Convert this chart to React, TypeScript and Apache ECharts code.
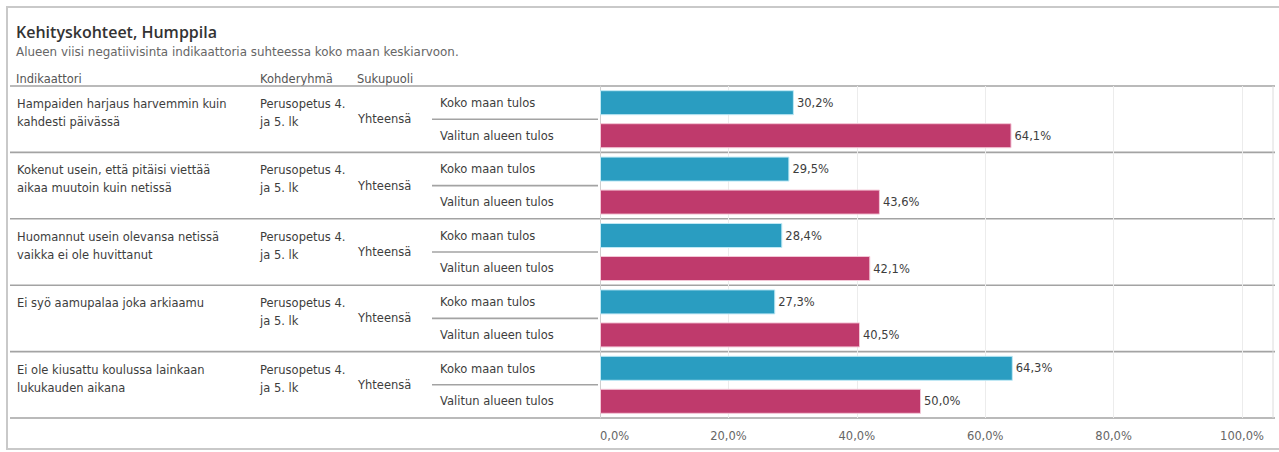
import React, { useEffect, useRef } from "react";
import * as echarts from "echarts";

// ---- Data ----
const titleText = "Kehityskohteet, Humppila";
const subtitleText = "Alueen viisi negatiivisinta indikaattoria suhteessa koko maan keskiarvoon.";
const headers = ["Indikaattori", "Kohderyhmä", "Sukupuoli"];
const indicators = [
  "Hampaiden harjaus harvemmin kuin\nkahdesti päivässä",
  "Kokenut usein, että pitäisi viettää\naikaa muutoin kuin netissä",
  "Huomannut usein olevansa netissä\nvaikka ei ole huvittanut",
  "Ei syö aamupalaa joka arkiaamu",
  "Ei ole kiusattu koulussa lainkaan\nlukukauden aikana",
];
const targetGroups = ["Perusopetus 4.\nja 5. lk", "Perusopetus 4.\nja 5. lk", "Perusopetus 4.\nja 5. lk", "Perusopetus 4.\nja 5. lk", "Perusopetus 4.\nja 5. lk"];
const genders = ["Yhteensä", "Yhteensä", "Yhteensä", "Yhteensä", "Yhteensä"];
const seriesNames = ["Koko maan tulos", "Valitun alueen tulos"];
const nationalValues = [30.2, 29.5, 28.4, 27.3, 64.3];
const regionValues = [64.1, 43.6, 42.1, 40.5, 50.0];
const xTicks = [0, 20, 40, 60, 80, 100];

// ---- Layout / style ----
const W = 1279;
const H = 452;
const GRID_LEFT = 600;
const GRID_TOP = 86;
const GRID_W = 642;
const GRID_H = 332;
const ROW_H = GRID_H / indicators.length;
const FONT = "'DejaVu Sans', 'Noto Sans', sans-serif";
const TITLE_FONT = "'Open Sans', 'Noto Sans', sans-serif";
const BODY = 11.5;
const BLUE = "#2a9dc1";
const PINK = "#bf3a6c";
const LINE = "#a3a3a3";
const TEXT = "#3d3d3d";

const fmt = (v: number) => v.toFixed(1).replace(".", ",") + "%";

function txt(x: number, y: number, text: string, size: number, fill: string, extra: any = {}) {
  return {
    type: "text",
    x,
    y,
    silent: true,
    style: { text, fontSize: size, fontFamily: FONT, fill, verticalAlign: "middle", ...extra },
  };
}

function buildGraphics() {
  const els: any[] = [];
  els.push({
    type: "rect",
    shape: { x: 7, y: 7, width: 1280, height: 442 },
    style: { fill: "none", stroke: "#c9c9c9", lineWidth: 2 },
    silent: true,
  });
  els.push(txt(16, 32, titleText, 16, "#333", { fontWeight: 600, fontFamily: TITLE_FONT }));
  els.push(txt(16, 52, subtitleText, 11.9, "#666"));
  const headerX = [16, 260, 357];
  headers.forEach((h, i) => els.push(txt(headerX[i], 79, h, 11.5, "#555")));
  // horizontal lines: header + row boundaries
  for (let i = 0; i <= indicators.length; i++) {
    const y = GRID_TOP + i * ROW_H;
    els.push({
      type: "line",
      shape: { x1: 10, y1: y, x2: 1275, y2: y },
      style: { stroke: LINE, lineWidth: 1.6 },
      silent: true,
    });
  }
  // right border of the table
  els.push({
    type: "line",
    shape: { x1: 1273, y1: GRID_TOP, x2: 1273, y2: GRID_TOP + GRID_H },
    style: { stroke: "#dcdcdc", lineWidth: 1 },
    silent: true,
  });
  indicators.forEach((ind, i) => {
    const top = GRID_TOP + i * ROW_H;
    ind.split("\n").forEach((line, j) => els.push(txt(17, top + 18 + j * 18, line, BODY, TEXT)));
    targetGroups[i].split("\n").forEach((line, j) => els.push(txt(260, top + 18 + j * 18, line, BODY, TEXT)));
    els.push(txt(358, top + ROW_H / 2, genders[i], BODY, TEXT));
    els.push(txt(440, top + 17, seriesNames[0], BODY, TEXT));
    els.push(txt(440, top + 49.5, seriesNames[1], BODY, TEXT));
    els.push({
      type: "line",
      shape: { x1: 432, y1: top + ROW_H / 2, x2: 598, y2: top + ROW_H / 2 },
      style: { stroke: LINE, lineWidth: 1.6 },
      silent: true,
    });
  });
  return els;
}

export default function App() {
  const ref = useRef<HTMLDivElement>(null);
  useEffect(() => {
    if (!ref.current) return;
    const chart = echarts.init(ref.current, undefined, { renderer: "svg" });
    const labelStyle = {
      show: true,
      position: "right" as const,
      distance: 3,
      fontSize: 11.5,
      fontFamily: FONT,
      color: TEXT,
      formatter: (p: any) => fmt(p.value),
    };
    chart.setOption({
      animation: false,
      backgroundColor: "#ffffff",
      grid: { left: GRID_LEFT, top: GRID_TOP, width: GRID_W, height: GRID_H, containLabel: false },
      xAxis: {
        type: "value",
        min: xTicks[0],
        max: xTicks[xTicks.length - 1],
        interval: 20,
        axisLine: { show: false },
        axisTick: { show: false },
        splitLine: { show: true, lineStyle: { color: "#ececec", width: 1 } },
        axisLabel: {
          fontSize: 11.5,
          fontFamily: FONT,
          color: "#666",
          margin: 12,
          alignMinLabel: "left",
          formatter: (v: number) => fmt(v),
        },
      },
      yAxis: {
        type: "category",
        data: indicators,
        inverse: true,
        axisLabel: { show: false },
        axisTick: { show: false },
        axisLine: { show: true, lineStyle: { color: "#cfcfcf", width: 1 } },
        splitLine: { show: false },
      },
      series: [
        {
          name: seriesNames[0],
          type: "bar",
          data: nationalValues,
          barWidth: 25,
          barGap: "32%",
          itemStyle: { color: BLUE, borderColor: "#bfe9f5", borderWidth: 1 },
          label: labelStyle,
        },
        {
          name: seriesNames[1],
          type: "bar",
          data: regionValues,
          barWidth: 25,
          barGap: "32%",
          itemStyle: { color: PINK, borderColor: "#f3c6d6", borderWidth: 1 },
          label: labelStyle,
        },
      ],
      graphic: buildGraphics(),
    });
    return () => chart.dispose();
  }, []);
  return (
    <div
      ref={ref}
      style={{ position: "absolute", left: 0, top: 0, width: W, height: H }}
    />
  );
}
